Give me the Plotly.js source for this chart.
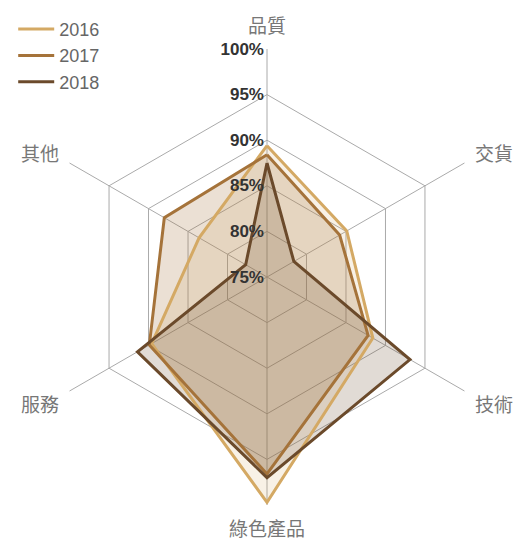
<!DOCTYPE html>
<html>
<head>
<meta charset="utf-8">
<script src="https://cdn.plot.ly/plotly-3.0.1.min.js"></script>
<style>html,body{margin:0;padding:0;background:#fff;}#chart{width:528px;height:543px;}</style>
</head>
<body>
<div id="chart"></div>
<script>
var categories = ['品質', '交貨', '技術', '綠色產品', '服務', '其他'];
var years = ['2016', '2017', '2018'];
var values2016 = [89.4, 85.1, 88.4, 99.7, 89.6, 83.6];
var values2017 = [88.4, 84.2, 87.8, 96.6, 89.9, 88.0];
var values2018 = [87.5, 78.4, 93.1, 97.0, 91.4, 77.7];
var radialTicks = [75, 80, 85, 90, 95, 100];
var radialTickText = ['75%', '80%', '85%', '90%', '95%', '100%'];

var lineColors = ['#d4a964', '#a5733a', '#6b4a2b'];
var fillColors = ['rgba(212,169,100,0.16)', 'rgba(165,115,58,0.22)', 'rgba(107,74,43,0.2)'];
var series = [values2016, values2017, values2018];

function closeLoop(arr) { return arr.concat([arr[0]]); }

var traces = [];
series.forEach(function (vals, i) {
  traces.push({
    type: 'scatterpolar',
    r: closeLoop(vals),
    theta: closeLoop(categories),
    mode: 'lines',
    fill: 'toself',
    fillcolor: fillColors[i],
    line: {width: 0, color: 'rgba(0,0,0,0)'},
    showlegend: false,
    hoverinfo: 'skip'
  });
});
series.forEach(function (vals, i) {
  traces.push({
    type: 'scatterpolar',
    r: closeLoop(vals),
    theta: closeLoop(categories),
    mode: 'lines',
    name: years[i],
    line: {width: 3, color: lineColors[i]}
  });
});

var W = 528, H = 543, cx = 267, cy = 277, R = 228;

var layout = {
  width: W,
  height: H,
  margin: {l: 0, r: 0, t: 0, b: 0},
  paper_bgcolor: '#fff',
  font: {family: 'Liberation Sans, Arial, sans-serif'},
  showlegend: true,
  legend: {
    x: 0.025, y: 0.98, xanchor: 'left', yanchor: 'top',
    font: {size: 18, color: '#666'},
    itemwidth: 36,
    tracegroupgap: 0,
    bgcolor: 'rgba(0,0,0,0)'
  },
  polar: {
    domain: {
      x: [(cx - R) / W, (cx + R) / W],
      y: [(H - cy - R) / H, (H - cy + R) / H]
    },
    gridshape: 'linear',
    bgcolor: '#fff',
    radialaxis: {
      range: [75, 100],
      tickmode: 'array',
      tickvals: radialTicks,
      ticktext: radialTickText,
      angle: 90,
      tickangle: 90,
      side: 'counterclockwise',
      showline: false,
      ticks: '',
      gridcolor: '#aaa',
      gridwidth: 1,
      tickfont: {size: 17, color: '#333', weight: 'bold'}
    },
    angularaxis: {
      direction: 'clockwise',
      rotation: 90,
      gridcolor: '#aaa',
      linecolor: '#aaa',
      showline: false,
      ticks: 'outside',
      ticklen: 8,
      tickcolor: 'rgba(0,0,0,0)',
      tickfont: {size: 19, color: '#777', family: 'Noto Sans CJK TC, sans-serif'}
    }
  }
};

Plotly.newPlot('chart', traces, layout, {displayModeBar: false, staticPlot: true});
</script>
</body>
</html>
